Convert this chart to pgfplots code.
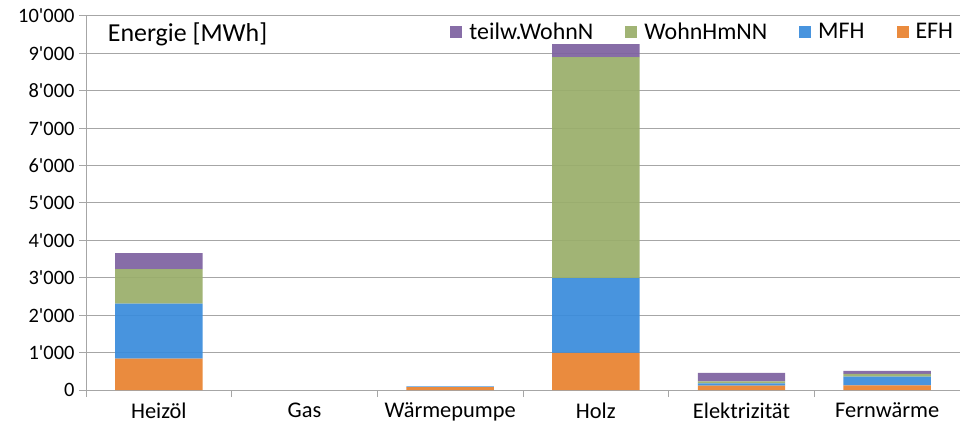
\documentclass[border=0pt]{standalone}
\usepackage{fontspec}
\setmainfont{Carlito}
\usepackage{pgfplots}
\pgfplotsset{compat=1.18}
\definecolor{cEFH}{HTML}{E8822F}
\definecolor{cMFH}{HTML}{3A8CDB}
\definecolor{cWHM}{HTML}{9AAE6B}
\definecolor{cTW}{HTML}{7E62A0}
\definecolor{gridg}{HTML}{A6A6A6}
\begin{document}
\begin{tikzpicture}
\useasboundingbox (-86bp,-44bp) rectangle (874bp,390bp);
\begin{axis}[
  scale only axis,
  width=874bp, height=374bp,
  ybar stacked,
  bar width=0.6,
  xmin=-0.5, xmax=5.5,
  ymin=0, ymax=10000,
  ytick={0,1000,...,10000},
  xtick={-0.5,0.5,...,5.5},
  x tick label as interval,
  xticklabels={Heiz\"ol,Gas,W\"armepumpe,Holz,Elektrizit\"at,Fernw\"arme},
  axis x line*=bottom,
  axis y line*=left,
  axis line style={gridg, line width=1bp},
  ymajorgrids,
  grid style={gridg, line width=1bp},
  tick style={gridg, line width=1bp},
  tick align=outside,
  major tick length=7bp,
  scaled y ticks=false,
  /pgf/number format/assume math mode=true,
  /pgf/number format/fixed,
  /pgf/number format/1000 sep={\textquotesingle},
  yticklabel style={font=\fontsize{20.5}{24}\selectfont, xshift=-1bp},
  xticklabel style={font=\fontsize{22.5}{26}\selectfont, yshift=-2bp},
  legend style={draw=none, fill=none, at={(rel axis cs:0.998,0.993)}, anchor=north east,
    font=\fontsize{24}{28}\selectfont, legend columns=4,
    /tikz/every even column/.append style={column sep=30bp}},
  reverse legend,
  legend image code/.code={\fill[#1] (0bp,-6bp) rectangle (12bp,6bp); \path (17bp,0bp);},
  every axis plot/.append style={draw=none, fill opacity=0.93},
  clip=false,
]
\addplot[fill=cEFH] coordinates {(0,840) (1,0) (2,80) (3,990) (4,120) (5,125)};
\addlegendentry{EFH}
\addplot[fill=cMFH] coordinates {(0,1470) (1,0) (2,20) (3,2000) (4,60) (5,230)};
\addlegendentry{MFH}
\addplot[fill=cWHM] coordinates {(0,920) (1,0) (2,0) (3,5910) (4,50) (5,75)};
\addlegendentry{WohnHmNN}
\addplot[fill=cTW] coordinates {(0,430) (1,0) (2,0) (3,350) (4,230) (5,80)};
\addlegendentry{teilw.WohnN}
\node[anchor=west, font=\fontsize{26}{30}\selectfont] at (rel axis cs:0.021,0.95) {Energie [MWh]};
\end{axis}
\end{tikzpicture}
\end{document}
